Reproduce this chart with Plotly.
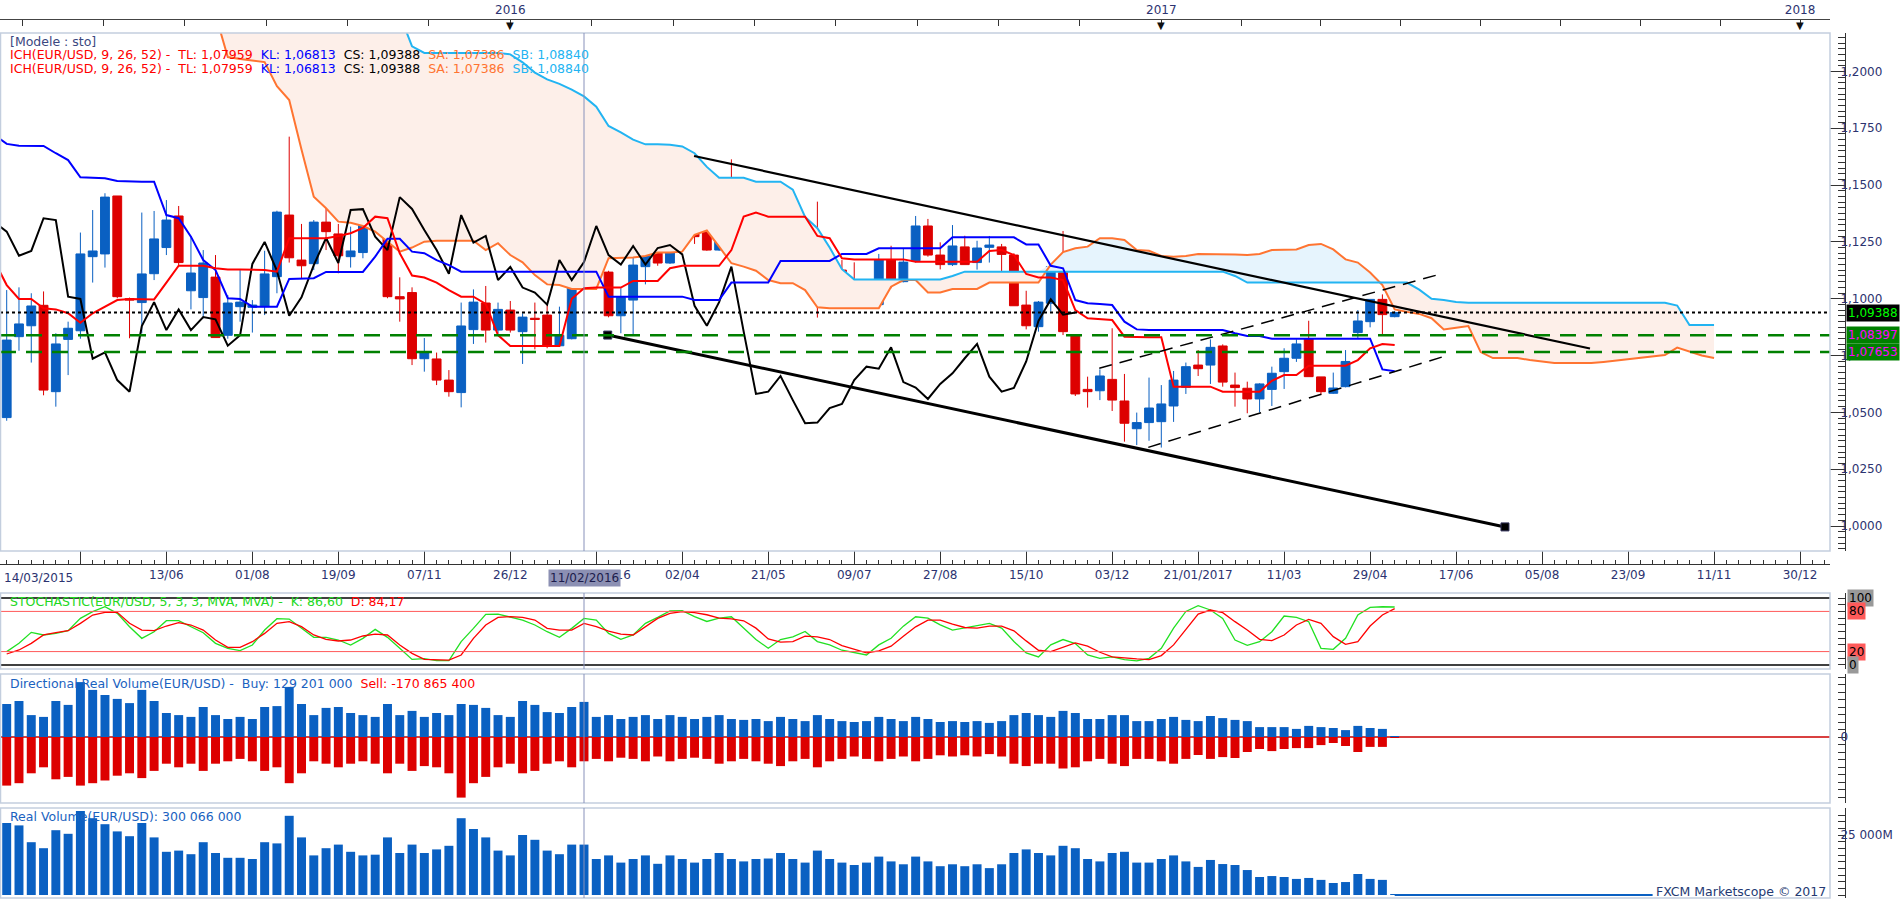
import datetime as dt
import plotly.graph_objects as go

W, H = 1903, 900
FONT = "DejaVu Sans"
AXIS_TXT = "#2c3370"
BLUE = "#0a60c2"
RED = "#dd0000"

# weekly EUR/USD candles, first candle = week of 14/03/2015
first_week = dt.datetime(2015, 3, 14)

opens = [1.0477, 1.0833, 1.0881, 1.0971, 1.0591, 1.0821, 1.0859, 1.1185, 1.1197, 1.1452,
         1.1000, 1.0983, 1.1110, 1.1225, 1.1364, 1.1035, 1.1005, 1.1095, 1.0839, 1.0965,
         1.0962, 1.0965, 1.1097, 1.1368, 1.1170, 1.1154, 1.1337, 1.1285, 1.1185, 1.1203,
         1.1361, 1.1352, 1.1009, 1.1027, 1.0736, 1.0735, 1.0642, 1.0587, 1.0864, 1.0981,
         1.0862, 1.0950, 1.0855, 1.0914, 1.0928, 1.0793, 1.0824, 1.1145, 1.1232, 1.1117,
         1.0925, 1.0994, 1.1141, 1.1258, 1.1157, 1.1384, 1.1403, 1.1299, 1.1214, 1.1434,
         1.1399, 1.1302, 1.1214, 1.1110, 1.1346, 1.1247, 1.1276, 1.1062, 1.1126, 1.1050,
         1.1038, 1.0974, 1.1170, 1.1075, 1.1167, 1.1320, 1.1192, 1.1150, 1.1228, 1.1159,
         1.1226, 1.1228, 1.1192, 1.0972, 1.0877, 1.0980, 1.1115, 1.0836, 1.0601, 1.0595,
         1.0645, 1.0550, 1.0428, 1.0455, 1.0459, 1.0528, 1.0610, 1.0708, 1.0708, 1.0792,
         1.0620, 1.0606, 1.0559, 1.0601, 1.0679, 1.0738, 1.0824, 1.0656, 1.0584, 1.0613,
         1.0851, 1.0899, 1.0997, 1.0921]
highs = [1.1038, 1.1050, 1.1024, 1.1032, 1.0848, 1.0899, 1.1291, 1.1390, 1.1464, 1.1452,
         1.1005, 1.1379, 1.1386, 1.1434, 1.1408, 1.1276, 1.1214, 1.1192, 1.1016, 1.1126,
         1.0994, 1.1211, 1.1387, 1.1713, 1.1329, 1.1346, 1.1456, 1.1329, 1.1317, 1.1383,
         1.1490, 1.1383, 1.1094, 1.1050, 1.0827, 1.0763, 1.0686, 1.0983, 1.1041, 1.1056,
         1.0983, 1.0990, 1.0936, 1.0983, 1.0977, 1.0965, 1.1241, 1.1258, 1.1244, 1.1123,
         1.1046, 1.1207, 1.1342, 1.1280, 1.1434, 1.1452, 1.1461, 1.1394, 1.1456, 1.1613,
         1.1442, 1.1346, 1.1241, 1.1376, 1.1401, 1.1302, 1.1427, 1.1141, 1.1170, 1.1160,
         1.1082, 1.1197, 1.1233, 1.1222, 1.1364, 1.1351, 1.1248, 1.1324, 1.1277, 1.1255,
         1.1276, 1.1241, 1.1200, 1.1035, 1.0990, 1.1141, 1.1298, 1.0840, 1.0657, 1.0689,
         1.0870, 1.0669, 1.0499, 1.0653, 1.0620, 1.0682, 1.0719, 1.0774, 1.0821, 1.0799,
         1.0675, 1.0635, 1.0628, 1.0701, 1.0782, 1.0821, 1.0903, 1.0656, 1.0675, 1.0774,
         1.0950, 1.0997, 1.1019, 1.0945]
lows = [1.0463, 1.0771, 1.0719, 1.0575, 1.0525, 1.0664, 1.0824, 1.1071, 1.1137, 1.1002,
        1.0826, 1.0848, 1.1082, 1.1192, 1.1148, 1.0953, 1.0914, 1.0829, 1.0824, 1.0899,
        1.0851, 1.0928, 1.1024, 1.1159, 1.1090, 1.1126, 1.1214, 1.1112, 1.1137, 1.1178,
        1.1339, 1.1002, 1.0899, 1.0708, 1.0679, 1.0620, 1.0569, 1.0522, 1.0801, 1.0807,
        1.0848, 1.0851, 1.0713, 1.0777, 1.0782, 1.0792, 1.0821, 1.1141, 1.1071, 1.0918,
        1.0848, 1.0836, 1.1063, 1.1145, 1.1153, 1.1329, 1.1241, 1.1211, 1.1211, 1.1387,
        1.1285, 1.1185, 1.1110, 1.1100, 1.1247, 1.1137, 1.0917, 1.0974, 1.1005, 1.1018,
        1.0962, 1.0968, 1.1046, 1.1072, 1.1159, 1.1185, 1.1129, 1.1144, 1.1150, 1.1128,
        1.1159, 1.1107, 1.0969, 1.0865, 1.0855, 1.0943, 1.0840, 1.0572, 1.0521, 1.0554,
        1.0506, 1.0371, 1.0356, 1.0375, 1.0345, 1.0458, 1.0581, 1.0660, 1.0625, 1.0613,
        1.0525, 1.0496, 1.0500, 1.0528, 1.0603, 1.0722, 1.0657, 1.0576, 1.0581, 1.0610,
        1.0824, 1.0874, 1.0839, 1.0918]
closes = [1.0818, 1.0889, 1.0968, 1.0598, 1.0801, 1.0870, 1.1197, 1.1210, 1.1447, 1.1009,
          1.0994, 1.1109, 1.1263, 1.1346, 1.1159, 1.1113, 1.1157, 1.0829, 1.0981, 1.0985,
          1.0972, 1.1109, 1.1381, 1.1180, 1.1145, 1.1337, 1.1295, 1.1189, 1.1210, 1.1354,
          1.1346, 1.1009, 1.0999, 1.0736, 1.0764, 1.0642, 1.0591, 1.0880, 1.0985, 1.0862,
          1.0953, 1.0862, 1.0919, 1.0909, 1.0793, 1.0839, 1.1153, 1.1250, 1.1123, 1.0925,
          1.1006, 1.1148, 1.1267, 1.1157, 1.1390, 1.1394, 1.1273, 1.1214, 1.1447, 1.1395,
          1.1302, 1.1214, 1.1110, 1.1368, 1.1247, 1.1276, 1.1082, 1.1140, 1.1049, 1.1027,
          1.0974, 1.1170, 1.1082, 1.1161, 1.1320, 1.1192, 1.1150, 1.1232, 1.1150, 1.1223,
          1.1236, 1.1195, 1.0969, 1.0881, 1.0985, 1.1141, 1.0855, 1.0581, 1.0591, 1.0660,
          1.0554, 1.0452, 1.0455, 1.0519, 1.0537, 1.0642, 1.0701, 1.0692, 1.0786, 1.0633,
          1.0609, 1.0559, 1.0625, 1.0672, 1.0738, 1.0801, 1.0657, 1.0591, 1.0607, 1.0724,
          1.0902, 1.0997, 1.0930, 1.0939]

# Ichimoku lines (tenkan / kijun start one week before the first candle)
tenkan = [1.1165, 1.1060, 1.0999, 1.0999, 1.0958, 1.0953, 1.0936, 1.0894, 1.0936, 1.0965,
          1.0994, 1.0999, 1.0997, 1.0997, 1.1071, 1.1145, 1.1145, 1.1145, 1.1134, 1.1129,
          1.1129, 1.1126, 1.1126, 1.1119, 1.1266, 1.1266, 1.1266, 1.1266, 1.1276, 1.1288,
          1.1311, 1.1361, 1.1354, 1.1200, 1.1102, 1.1093, 1.1071, 1.1038, 1.1009, 1.1009,
          1.0977, 1.0840, 1.0792, 1.0792, 1.0792, 1.0792, 1.0792, 1.1000, 1.1046, 1.1049,
          1.1049, 1.1049, 1.1078, 1.1078, 1.1078, 1.1134, 1.1145, 1.1145, 1.1145, 1.1145,
          1.1214, 1.1361, 1.1379, 1.1361, 1.1361, 1.1361, 1.1361, 1.1276, 1.1266, 1.1178,
          1.1173, 1.1173, 1.1173, 1.1173, 1.1173, 1.1163, 1.1163, 1.1163, 1.1163, 1.1163,
          1.1163, 1.1210, 1.1214, 1.1192, 1.1109, 1.1093, 1.1093, 1.1082, 1.0950, 1.0914,
          1.0911, 1.0906, 1.0833, 1.0830, 1.0830, 1.0830, 1.0613, 1.0613, 1.0613, 1.0613,
          1.0591, 1.0591, 1.0591, 1.0591, 1.0639, 1.0664, 1.0664, 1.0705, 1.0705, 1.0705,
          1.0705, 1.0730, 1.0782, 1.0801, 1.0796]
kijun = [1.1720, 1.1681, 1.1673, 1.1673, 1.1672, 1.1640, 1.1610, 1.1534, 1.1532, 1.1530,
         1.1518, 1.1515, 1.1515, 1.1515, 1.1368, 1.1354, 1.1273, 1.1170, 1.1126, 1.1002,
         1.0999, 1.0965, 1.0965, 1.0965, 1.1087, 1.1087, 1.1090, 1.1118, 1.1118, 1.1118,
         1.1118, 1.1185, 1.1264, 1.1264, 1.1207, 1.1200, 1.1170, 1.1148, 1.1119, 1.1119,
         1.1119, 1.1119, 1.1119, 1.1119, 1.1119, 1.1119, 1.1119, 1.1119, 1.1119, 1.1119,
         1.1009, 1.1009, 1.1009, 1.1009, 1.1009, 1.1009, 1.1009, 1.0994, 1.0994, 1.0994,
         1.1071, 1.1071, 1.1071, 1.1071, 1.1166, 1.1166, 1.1166, 1.1166, 1.1166, 1.1197,
         1.1197, 1.1197, 1.1222, 1.1222, 1.1222, 1.1222, 1.1222, 1.1222, 1.1270, 1.1270,
         1.1270, 1.1270, 1.1270, 1.1270, 1.1239, 1.1239, 1.1145, 1.1134, 1.0994, 1.0980,
         1.0977, 1.0972, 1.0899, 1.0865, 1.0862, 1.0862, 1.0862, 1.0862, 1.0862, 1.0862,
         1.0862, 1.0848, 1.0836, 1.0836, 1.0824, 1.0824, 1.0824, 1.0824, 1.0824, 1.0824,
         1.0824, 1.0824, 1.0824, 1.0689, 1.0681]
# senkou spans, plotted 26 weeks ahead; first value is at week index 17
senkou_a = [1.2250, 1.2063, 1.2055, 1.2048, 1.2041, 1.1935, 1.1874, 1.1656, 1.1449, 1.1398,
            1.1339, 1.1334, 1.1320, 1.1295, 1.1251, 1.1207, 1.1225, 1.1251, 1.1255, 1.1255,
            1.1255, 1.1255, 1.1214, 1.1244, 1.1192, 1.1160, 1.1104, 1.1063, 1.1060, 1.1043,
            1.1043, 1.1043, 1.1178, 1.1178, 1.1181, 1.1188, 1.1203, 1.1203, 1.1207, 1.1281,
            1.1300, 1.1229, 1.1156, 1.1141, 1.1123, 1.1082, 1.1068, 1.1068, 1.1038, 1.0962,
            1.0958, 1.0958, 1.0958, 1.0958, 1.0958, 1.1053, 1.1082, 1.1082, 1.1027, 1.1027,
            1.1043, 1.1043, 1.1043, 1.1071, 1.1071, 1.1071, 1.1071, 1.1071, 1.1150, 1.1205,
            1.1222, 1.1229, 1.1266, 1.1266, 1.1258, 1.1214, 1.1211, 1.1188, 1.1185, 1.1188,
            1.1197, 1.1197, 1.1197, 1.1195, 1.1192, 1.1197, 1.1214, 1.1214, 1.1217, 1.1236,
            1.1241, 1.1217, 1.1173, 1.1159, 1.1115, 1.1060, 1.0953, 1.0942, 1.0933, 1.0914,
            1.0865, 1.0872, 1.0880, 1.0765, 1.0739, 1.0739, 1.0739, 1.0730, 1.0722, 1.0717,
            1.0717, 1.0717, 1.0717, 1.0722, 1.0728, 1.0735, 1.0740, 1.0745, 1.0752, 1.0785,
            1.0768, 1.0750, 1.0739]
senkou_b = [1.2600, 1.2600, 1.2600, 1.2600, 1.2600, 1.2600, 1.2600, 1.2600, 1.2600, 1.2600,
            1.2600, 1.2600, 1.2600, 1.2600, 1.2600, 1.2250, 1.2110, 1.2081, 1.2081, 1.2081,
            1.2081, 1.2081, 1.2081, 1.2081, 1.2075, 1.2040, 1.1995, 1.1965, 1.1945, 1.1920,
            1.1890, 1.1845, 1.1760, 1.1732, 1.1700, 1.1679, 1.1679, 1.1677, 1.1670, 1.1640,
            1.1580, 1.1532, 1.1532, 1.1532, 1.1515, 1.1515, 1.1515, 1.1480, 1.1360, 1.1310,
            1.1225, 1.1130, 1.1085, 1.1085, 1.1085, 1.1085, 1.1085, 1.1085, 1.1085, 1.1085,
            1.1100, 1.1119, 1.1119, 1.1119, 1.1119, 1.1119, 1.1119, 1.1119, 1.1119, 1.1119,
            1.1119, 1.1119, 1.1119, 1.1119, 1.1119, 1.1119, 1.1119, 1.1119, 1.1119, 1.1119,
            1.1119, 1.1119, 1.1119, 1.1100, 1.1071, 1.1071, 1.1071, 1.1071, 1.1071, 1.1071,
            1.1071, 1.1071, 1.1071, 1.1071, 1.1071, 1.1071, 1.1071, 1.1071, 1.1040, 1.1000,
            1.0994, 1.0985, 1.0982, 1.0982, 1.0982, 1.0982, 1.0982, 1.0982, 1.0982, 1.0982,
            1.0982, 1.0982, 1.0982, 1.0982, 1.0982, 1.0982, 1.0982, 1.0982, 1.0982, 1.0970,
            1.0884, 1.0884, 1.0884]
SENKOU_START = 17

# drawn levels
cs_level = 1.09388
support_levels = [1.08397, 1.07653]
upper_trend_k, upper_trend_p = [55.96, 128.9], [1.1628, 1.0781]
lower_trend_k, lower_trend_p = [48.93, 121.98], [1.0840, 0.9996]
chan_top_k, chan_top_p = [88.95, 116.96], [1.0694, 1.1112]
chan_bot_k, chan_bot_p = [92.94, 116.96], [1.0346, 1.0745]

# stochastic (5,3,3)
stoch_k = [19.9, 32.3, 48.7, 44.8, 47.2, 51.2, 69.6, 79.6, 87.0, 77.1,
           57.2, 39.8, 49.7, 66.2, 66.2, 57.2, 48.2, 32.3, 24.9, 21.4,
           29.8, 52.2, 69.1, 68.6, 54.7, 41.3, 41.3, 37.3, 29.8, 39.8,
           53.2, 41.3, 24.9, 8.4, 9.4, 6.4, 6.4, 34.8, 54.7, 75.6,
           76.1, 72.1, 67.1, 59.7, 49.7, 41.3, 54.7, 69.6, 67.1, 47.2,
           38.3, 44.8, 62.2, 71.1, 80.6, 81.1, 72.1, 65, 70, 72,
           55, 38, 25, 38, 42, 50, 35, 30, 22, 18,
           15, 30, 40, 58, 72, 70, 60, 52, 55, 58,
           62, 55, 35, 18, 12, 30, 38, 32, 15, 10,
           12, 8, 6, 10, 25, 55, 80, 88.5, 82.1, 69.6,
           37.3, 29.3, 34.8, 49.7, 73.1, 71.1, 64.7, 24.9, 23.4, 39.8,
           74.6, 86.1, 87.0, 86.6]
stoch_d = [16.4, 22.4, 32.3, 44.8, 48.2, 51.2, 62.2, 74.6, 78.6, 78.6,
           62.2, 52.2, 51.2, 58.2, 63.2, 59.7, 52.2, 37.3, 26.4, 26.4,
           34.8, 47.2, 62.2, 64.7, 57.2, 44.8, 38.3, 35.8, 37.3, 43.3,
           46.2, 44.8, 29.8, 17.4, 8.4, 7.4, 7.4, 14.9, 39.8, 59.7,
           71.1, 72.1, 71.1, 67.1, 54.7, 52.2, 52.2, 62.2, 57.2, 50.7,
           46.2, 44.8, 57.2, 69.6, 77.1, 79.6, 78.1, 75, 70, 69,
           66, 55, 39, 34, 35, 43, 42, 38, 29, 23,
           18, 21, 28, 43, 57, 67, 67, 61, 56, 55,
           58, 58, 51, 36, 22, 20, 27, 33, 28, 19,
           12, 10, 9, 8, 14, 30, 53, 76.1, 82.1, 78.1,
           64.7, 52.2, 38.3, 36.3, 44.8, 59.7, 68.1, 62.2, 42.3, 30.8,
           34.8, 58.2, 74.6, 84.2]

# directional real volume (millions), buy and sell
buy_vol = [11000, 12000, 7300, 6700, 12000, 10700, 18300, 15700, 14000, 12700,
           11300, 15700, 12000, 8000, 7300, 6700, 10000, 7300, 6000, 6700,
           6000, 10000, 10300, 16700, 11000, 7300, 9700, 10000, 8000, 7300,
           6700, 11000, 7300, 8700, 6700, 8000, 7300, 11000, 10700, 9700,
           7300, 6700, 12000, 10700, 8300, 8000, 10000, 11700, 6700, 7300,
           6000, 6700, 7300, 6000, 7300, 6700, 6000, 6700, 7300, 6000,
           5700, 6000, 5300, 6700, 6000, 5300, 7300, 6000, 5300, 5000,
           5300, 6700, 6000, 5300, 6700, 6000, 5000, 5300, 5000, 5300,
           4700, 5300, 7300, 8000, 7300, 6700, 8700, 8000, 6000, 6000,
           7300, 7300, 5300, 5300, 6000, 6700, 5700, 5300, 7000, 6300,
           5700, 5300, 3300, 3300, 3300, 2700, 3700, 3300, 3000, 2300,
           3700, 3000, 2700, 129.2]
sell_vol = [16200, 15400, 12100, 10100, 14100, 13300, 16200, 15400, 14500, 12900,
            12100, 13700, 11300, 8900, 10100, 8900, 11300, 8900, 8100, 7300,
            8100, 11300, 10100, 15400, 12100, 8100, 8900, 10100, 8900, 8100,
            8900, 12100, 8900, 11300, 9700, 10100, 12100, 20200, 15400, 13300,
            10100, 8900, 12100, 11300, 8900, 8100, 10100, 8100, 7300, 8100,
            6900, 7300, 8100, 6500, 8100, 7300, 6900, 7300, 8900, 8100,
            7300, 8100, 8900, 9700, 8100, 7300, 10100, 8100, 7300, 6500,
            7300, 8100, 7300, 6500, 8100, 7300, 6100, 6500, 6100, 6500,
            5700, 6500, 8900, 9700, 8900, 8900, 10500, 10100, 8100, 7300,
            8900, 9700, 7300, 7300, 8100, 8900, 7300, 6000, 7300, 6700,
            7000, 5000, 4000, 4700, 4000, 3700, 3700, 2700, 2000, 3000,
            5000, 3300, 3300, 170.9]
real_vol = [30000, 29000, 22000, 19500, 27000, 25500, 35000, 32000, 29500, 26500,
            24500, 30000, 24000, 18000, 18500, 17000, 22000, 17500, 15500, 15500,
            15000, 22000, 21500, 33000, 24000, 16500, 19500, 21000, 18000, 16500,
            16800, 24000, 17500, 21000, 17500, 19000, 20500, 32000, 27500, 24000,
            18500, 16500, 25000, 23000, 18500, 17000, 21000, 21000, 15000, 16500,
            13500, 15000, 16500, 13000, 16500, 15000, 13500, 15000, 17500, 15000,
            14000, 15000, 15200, 17500, 15000, 13500, 18500, 15000, 13500, 12500,
            13500, 16000, 14000, 12800, 16000, 14000, 12000, 12800, 12000, 12800,
            11200, 12800, 17500, 19000, 17500, 16500, 20500, 19500, 15000, 14000,
            17500, 18000, 13500, 13500, 15000, 16500, 14000, 11700, 14600, 12900,
            12500, 10400, 7500, 7900, 7500, 6700, 7100, 6300, 5000, 5400,
            8750, 6700, 6300, 300.07]

# date axis labels (every 7 weeks, starting at week index 6)
date_labels = ["", "13/06", "01/08", "19/09", "07/11", "26/12", "13/02/2016", "02/04",
               "21/05", "09/07", "27/08", "15/10", "03/12", "21/01/2017", "11/03",
               "29/04", "17/06", "05/08", "23/09", "11/11", "30/12"]
year_marks = {41: "2016", 94: "2017", 146: "2018"}
CURSOR_K, CURSOR_LABEL = 47, "11/02/2016"


def week(k):
    return first_week + dt.timedelta(days=7 * k)


# ---- geometry (pixels of the 1903x900 page) ----
PLOT_R, AXIS_X = 1830, 1845
MAIN = (33, 551)
STO = (593, 669)
DIR = (674, 803)
VOL = (808, 898)
PX_PER_DAY = 12.283 / 7
FIRST_X = 6.7


def py(p):
    return 1 - p / H


def px(p):
    return p / W


def dom(panel):
    return [py(panel[1]), py(panel[0])]


x_range = [first_week - dt.timedelta(days=FIRST_X / PX_PER_DAY),
           first_week + dt.timedelta(days=(PLOT_R - FIRST_X) / PX_PER_DAY)]

candle_x = [week(k) for k in range(len(closes))]
line_x = [week(k - 1) for k in range(len(tenkan))]
chikou_x = [week(k - 26) for k in range(len(closes))]
cloud_x = [week(SENKOU_START + i) for i in range(len(senkou_a))]
cloud_top = [max(a, b) for a, b in zip(senkou_a, senkou_b)]

fig = go.Figure()

# kumo fill: pink where span B is above, pale blue where span A is above
fig.add_trace(go.Scatter(x=cloud_x, y=senkou_a, mode="lines", line=dict(width=0),
                         hoverinfo="skip", showlegend=False))
fig.add_trace(go.Scatter(x=cloud_x, y=cloud_top, mode="lines", line=dict(width=0),
                         fill="tonexty", fillcolor="rgb(253,239,233)",
                         hoverinfo="skip", showlegend=False))
fig.add_trace(go.Scatter(x=cloud_x, y=senkou_b, mode="lines", line=dict(width=0),
                         hoverinfo="skip", showlegend=False))
fig.add_trace(go.Scatter(x=cloud_x, y=cloud_top, mode="lines", line=dict(width=0),
                         fill="tonexty", fillcolor="rgb(230,244,253)",
                         hoverinfo="skip", showlegend=False))

fig.add_trace(go.Candlestick(
    x=candle_x, open=opens, high=highs, low=lows, close=closes,
    increasing=dict(line=dict(color=BLUE, width=1), fillcolor=BLUE),
    decreasing=dict(line=dict(color=RED, width=1), fillcolor=RED),
    whiskerwidth=0, hoverinfo="skip", showlegend=False))

for xs, ys, col in [(cloud_x, senkou_a, "#ff7431"), (cloud_x, senkou_b, "#22b4f2"),
                    (chikou_x, closes, "#000000"), (line_x, kijun, "#0000ff"),
                    (line_x, tenkan, "#ff0000")]:
    fig.add_trace(go.Scatter(x=xs, y=ys, mode="lines", line=dict(color=col, width=2),
                             hoverinfo="skip", showlegend=False))

# trend lines and channel
fig.add_trace(go.Scatter(x=[week(k) for k in upper_trend_k], y=upper_trend_p, mode="lines",
                         line=dict(color="black", width=2.2), hoverinfo="skip", showlegend=False))
fig.add_trace(go.Scatter(x=[week(k) for k in lower_trend_k], y=lower_trend_p, mode="lines+markers",
                         line=dict(color="black", width=3),
                         marker=dict(symbol="square", size=8, color="black",
                                     line=dict(color="#30305a", width=1)),
                         hoverinfo="skip", showlegend=False))
for ks, ps in [(chan_top_k, chan_top_p), (chan_bot_k, chan_bot_p)]:
    fig.add_trace(go.Scatter(x=[week(k) for k in ks], y=ps, mode="lines",
                             line=dict(color="black", width=1.5, dash="13px,8px"),
                             hoverinfo="skip", showlegend=False))

# dummy trace so the top date axis is drawn
fig.add_trace(go.Scatter(x=candle_x[:1], y=closes[:1], xaxis="x2", yaxis="y", mode="markers",
                         marker=dict(opacity=0), hoverinfo="skip", showlegend=False))

# stochastic
fig.add_trace(go.Scatter(x=candle_x, y=stoch_k, mode="lines", line=dict(color="#22e022", width=1.3),
                         xaxis="x3", yaxis="y2", hoverinfo="skip", showlegend=False))
fig.add_trace(go.Scatter(x=candle_x, y=stoch_d, mode="lines", line=dict(color="#ff0000", width=1.3),
                         xaxis="x3", yaxis="y2", hoverinfo="skip", showlegend=False))

# directional real volume
fig.add_trace(go.Bar(x=candle_x, y=buy_vol, marker=dict(color=BLUE, line=dict(width=0)),
                     xaxis="x4", yaxis="y3", hoverinfo="skip", showlegend=False))
fig.add_trace(go.Bar(x=candle_x, y=[-v for v in sell_vol], marker=dict(color=RED, line=dict(width=0)),
                     xaxis="x4", yaxis="y3", hoverinfo="skip", showlegend=False))
# real volume
fig.add_trace(go.Bar(x=candle_x, y=real_vol, marker=dict(color=BLUE, line=dict(width=0)),
                     xaxis="x5", yaxis="y4", hoverinfo="skip", showlegend=False))

# ---- axes ----
tick_font = dict(family=FONT, size=12, color=AXIS_TXT)
week_ms = 7 * 24 * 3600 * 1000
major_k = list(range(6, 147, 7))

# top axis: 8 ticks per year between the year marks
mk = sorted(year_marks)
top_vals, top_text = [], []
step0 = (week(mk[1]) - week(mk[0])) / 8
for n in range(6, 0, -1):
    top_vals.append(week(mk[0]) - step0 * n)
    top_text.append("")
for a, b in zip(mk[:-1], mk[1:]):
    step = (week(b) - week(a)) / 8
    for n in range(8):
        top_vals.append(week(a) + step * n)
        top_text.append(year_marks[a] if n == 0 else "")
top_vals.append(week(mk[-1]))
top_text.append(year_marks[mk[-1]])

STANDOFF = -8
xdom = [0, px(PLOT_R)]
fig.update_layout(
    xaxis=dict(domain=xdom, range=x_range, type="date", anchor="free", position=py(564),
               tickmode="array", tickvals=[week(k) for k in major_k], ticktext=date_labels,
               ticks="inside", ticklen=13, tickcolor="#333", tickfont=tick_font,
               showline=True, linecolor="#333", linewidth=1, showgrid=False, zeroline=False,
               rangeslider=dict(visible=False),
               minor=dict(tick0=first_week, dtick=week_ms, ticks="inside", ticklen=4,
                          tickcolor="#333", showgrid=False)),
    xaxis2=dict(overlaying="x", range=x_range, type="date", anchor="free", position=py(19),
                side="top", tickmode="array", tickvals=top_vals, ticktext=top_text,
                ticks="inside", ticklen=6, tickcolor="#333", tickfont=tick_font,
                showline=True, linecolor="#444", showgrid=False, zeroline=False),
    xaxis3=dict(domain=xdom, matches="x", anchor="y2", visible=False, showgrid=False),
    xaxis4=dict(domain=xdom, matches="x", anchor="y3", visible=False, showgrid=False),
    xaxis5=dict(domain=xdom, matches="x", anchor="y4", visible=False, showgrid=False),
    yaxis=dict(domain=dom(MAIN), range=[0.9890, 1.2169], anchor="free", position=px(AXIS_X),
               side="right", tickmode="array", tickvals=[1.0 + 0.025 * i for i in range(9)],
               tickformat=".4f", ticks="inside", ticklen=15, tickcolor="#333", tickfont=tick_font,
               ticklabelstandoff=STANDOFF,
               showline=True, linecolor="#333", showgrid=False, zeroline=False,
               minor=dict(dtick=0.0025, ticks="inside", ticklen=7, tickcolor="#333", showgrid=False)),
    yaxis2=dict(domain=dom(STO), range=[-6, 107.5], anchor="free", position=px(AXIS_X),
                side="right", tickmode="array", tickvals=list(range(0, 101, 10)),
                showticklabels=False, ticks="inside", ticklen=7, tickcolor="#333",
                showline=True, linecolor="#333", showgrid=False, zeroline=False),
    yaxis3=dict(domain=dom(DIR), range=[-22000, 21000], anchor="free", position=px(AXIS_X),
                side="right", tickmode="array", tickvals=list(range(-20000, 20001, 2500)),
                ticktext=["0" if v == 0 else "" for v in range(-20000, 20001, 2500)],
                ticks="inside", ticklen=7, tickcolor="#333", tickfont=tick_font,
                ticklabelstandoff=STANDOFF,
                showline=True, linecolor="#333", showgrid=False, zeroline=False),
    yaxis4=dict(domain=dom(VOL), range=[-1250, 36250], anchor="free", position=px(AXIS_X),
                side="right", tickmode="array",
                tickvals=[25000 * i / 9 for i in range(13)],
                ticktext=["0" if i == 0 else ("25 000M" if i == 9 else "") for i in range(13)],
                ticks="inside", ticklen=7, tickcolor="#333", tickfont=tick_font,
                ticklabelstandoff=STANDOFF,
                showline=True, linecolor="#333", showgrid=False, zeroline=False),
    separators=", ",
    barmode="relative", bargap=0.27, boxgap=0.28, boxgroupgap=0,
    width=W, height=H, margin=dict(l=0, r=0, t=0, b=0),
    paper_bgcolor="white", plot_bgcolor="white",
    font=dict(family=FONT, size=12, color=AXIS_TXT),
    showlegend=False,
)

# ---- shapes: levels, panel frames, crosshair ----
shapes = []
shapes.append(dict(type="line", xref="paper", yref="y", x0=0, x1=px(PLOT_R), y0=cs_level, y1=cs_level,
                   line=dict(color="black", width=2, dash="3px,3px")))
for lv in support_levels:
    shapes.append(dict(type="line", xref="paper", yref="y", x0=0, x1=px(PLOT_R), y0=lv, y1=lv,
                       line=dict(color="#008000", width=2.5, dash="16px,10px")))
for lv, col, wd in [(100, "black", 1.5), (0, "black", 1.5), (80, "#ff5a5a", 1), (20, "#ff5a5a", 1)]:
    shapes.append(dict(type="line", xref="paper", yref="y2", x0=0, x1=px(PLOT_R), y0=lv, y1=lv,
                       line=dict(color=col, width=wd)))
shapes.append(dict(type="line", xref="paper", yref="y3", x0=0, x1=px(PLOT_R), y0=0, y1=0,
                   line=dict(color="#cc0000", width=1.5), layer="below"))
shapes.append(dict(type="line", xref="x5", yref="y4", x0=week(len(closes) - 1), x1=week(134),
                   y0=0, y1=0, line=dict(color=BLUE, width=2)))
for panel in (MAIN, STO, DIR, VOL):
    shapes.append(dict(type="rect", xref="paper", yref="paper", x0=px(0.5), x1=px(PLOT_R),
                       y0=py(panel[1]), y1=py(panel[0]), line=dict(color="#c3cede", width=1.5)))
for yr in ("y domain", "y2 domain", "y3 domain", "y4 domain"):
    shapes.append(dict(type="line", xref="x", yref=yr, x0=week(CURSOR_K), x1=week(CURSOR_K),
                       y0=0, y1=1, line=dict(color="#8891ba", width=1)))
fig.update_layout(shapes=shapes)

# ---- annotations ----
ann = []


def note(text, x, y, xref="paper", xanchor="left", color=AXIS_TXT, bg=None, size=12, yref="paper"):
    ann.append(dict(text=text, x=x, y=y, xref=xref, yref=yref, xanchor=xanchor, yanchor="middle",
                    showarrow=False, font=dict(family=FONT, size=size, color=color),
                    bgcolor=bg, borderpad=1))


def span(t, c):
    return '<span style="color:%s">%s</span>' % (c, t)


sp = "\u00a0\u00a0"
LEG = 12.5
ich = (span("ICH(EUR/USD, 9, 26, 52) -" + sp + "TL: 1,07959", "#ff0000") + sp +
       span("KL: 1,06813", "#0000ff") + sp + span("CS: 1,09388", "#000000") + sp +
       span("SA: 1,07386", "#ff7431") + sp + span("SB: 1,08840", "#22b4f2"))
note("[Modele : sto]", px(8), py(41), color="#3a4780", size=LEG)
note(ich, px(8), py(54), size=LEG)
note(ich, px(8), py(68), size=LEG)
note(span("STOCHASTIC(EUR/USD, 5, 3, 3, MVA, MVA) -" + sp + "K: 86,60", "#22d822") + sp +
     span("D: 84,17", "#ff0000"), px(8), py(601), size=LEG)
note(span("Directional Real Volume(EUR/USD) -" + sp + "Buy: 129 201 000", "#1a62c0") + sp +
     span("Sell: -170 865 400", "#ff0000"), px(8), py(683), size=LEG)
note("Real Volume(EUR/USD): 300 066 000", px(8), py(816), color="#1a62c0", size=LEG)
note("FXCM Marketscope © 2017", px(1828), py(891), xanchor="right", color="#243a73", size=LEG)
note("14/03/2015", px(2), py(578))
note(CURSOR_LABEL, week(CURSOR_K), py(578), xref="x", xanchor="center", color="#1c1c4c", bg="#8c90b3")
for k in year_marks:
    note("▼", week(k), py(25), xref="x", xanchor="center", color="#111", size=10)

# value flags on the price axis
note("1,09388", px(AXIS_X + 1), cs_level, yref="y", color="#00ff00", bg="#000000")
for lv in support_levels:
    note(("%.5f" % lv).replace(".", ","), px(AXIS_X + 1), lv, yref="y", color="#ff00ff", bg="#008000")
for lv, bg in [(100, "#999999"), (80, "#ff5a5a"), (20, "#ff5a5a"), (0, "#999999")]:
    note(str(lv), px(AXIS_X + 2), lv, yref="y2", color="#000000", bg=bg)

fig.update_layout(annotations=ann)
fig.write_html("out.html", config={"displayModeBar": False},
               post_script="document.body.style.margin='0px';")
